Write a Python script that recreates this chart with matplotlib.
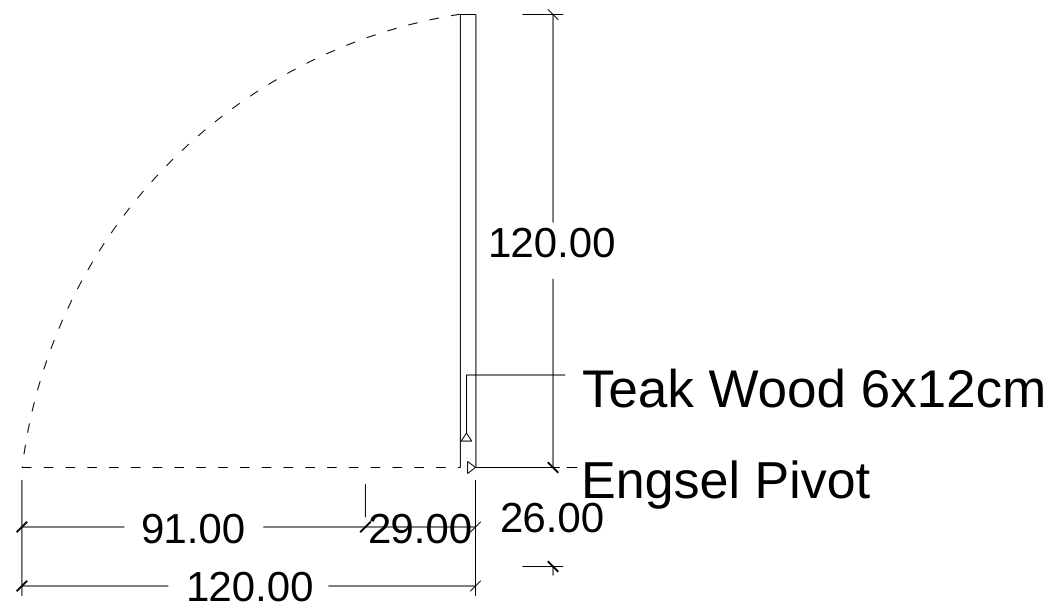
import matplotlib
matplotlib.use("Agg")
import matplotlib.pyplot as plt
from matplotlib.patches import Arc, Polygon

plt.rcParams["text.hinting"] = "no_hinting"
plt.rcParams["text.hinting_factor"] = 1

# Drawing units are centimetres; origin = swing end of the door, on the hinge line
W, H = 1055, 606
PX_PER_CM_X = 3.7833
PX_PER_CM_Y = 3.775
ORIGIN_PX = (21.9, 467.5)

door_x = [115.9, 120]
door_top = 120
arc_center = (137.05, -16.56)
arc_radii = (137.97, 138.28)
arc_angles = (98.8, 173.1)

# Solid dimension segments: (x0, y0, x1, y1)
dim_segments = [
    (0, -15.76, 27.1, -15.76), (63.8, -15.76, 120, -15.76),
    (0, -31.39, 38.7, -31.39), (81.0, -31.39, 120, -31.39),
    (0, -3.3, 0, -34), (119.9, -3.3, 119.9, -34),
    (90.8, -4.4, 90.8, -13.2),
    (140.39, 120, 140.39, 64.9), (140.39, 50, 140.39, 0),
    (132.3, 120, 143.1, 120),
    (120, 0, 142.2, 0), (144, 0, 146.8, 0),
    (132.3, -26.23, 143.1, -26.23), (140.39, -26.23, 140.39, -28.6),
]
# Dimension ticks: (x, y, direction, linewidth)
ticks = [
    (0, -15.76, 1, 1.4), (0, -31.39, 1, 1.4), (90.8, -15.76, 1, 1.4),
    (119.9, -15.76, 1, 0.7), (119.9, -31.39, 1, 0.7),
    (140.39, 120, -1, 0.7), (140.39, 0, -1, 1.4), (140.39, -26.23, -1, 1.4),
]
leader_x = [143.6, 117.52, 117.52]
leader_y = [24.5, 24.5, 9.1]
triangle_up = [(117.52, 9.1), (116.1, 7), (118.9, 7)]
triangle_right = [(119.9, 0), (117.8, 1.6), (117.8, -1.6)]

labels = [
    ("120.00", 123.2, 56.0, 30.1),
    ("Teak Wood 6x12cm", 148.1, 16.1, 37.9),
    ("Engsel Pivot", 147.8, -8.16, 37.6),
    ("91.00", 31.3, -20.0, 30.1),
    ("29.00", 91.4, -20.0, 30.1),
    ("26.00", 126.3, -17.0, 30.1),
    ("120.00", 43.2, -35.3, 30.1),
]

fig = plt.figure(figsize=(W / 100, H / 100), dpi=100)
ax = fig.add_axes([0, 0, 1, 1])
ax.set_xlim(-ORIGIN_PX[0] / PX_PER_CM_X, (W - ORIGIN_PX[0]) / PX_PER_CM_X)
ax.set_ylim((ORIGIN_PX[1] - H) / PX_PER_CM_Y, ORIGIN_PX[1] / PX_PER_CM_Y)
ax.axis("off")

LW = 0.72
DASH = (0, (9.6, 12.2))
line = dict(color="black", lw=LW, solid_capstyle="butt", snap=False)

# Door panel
ax.plot([door_x[0], door_x[0]], [0, door_top], **line)
ax.plot([door_x[1], door_x[1]], [0, door_top], **line)
ax.plot([door_x[0] - 0.1, door_x[1]], [door_top, door_top], **line)

# Swing arc and closed-position dashed line
ax.add_patch(Arc(arc_center, 2 * arc_radii[0], 2 * arc_radii[1],
                 theta1=arc_angles[0], theta2=arc_angles[1],
                 color="black", lw=LW, ls=DASH, snap=False))
ax.plot([0, door_x[0]], [0, 0], color="black", lw=LW, ls=DASH, dash_capstyle="butt", snap=False)

for x0, y0, x1, y1 in dim_segments:
    ax.plot([x0, x1], [y0, y1], **line)

for x, y, d, lw in ticks:
    ax.plot([x - 1.4, x + 1.4], [y - 1.4 * d, y + 1.4 * d], color="black", lw=lw,
            solid_capstyle="butt", snap=False)

ax.plot(leader_x, leader_y, **line)
for tri in (triangle_up, triangle_right):
    ax.add_patch(Polygon(tri, closed=True, fill=False, ec="black", lw=LW, snap=False))

for text, x, y, size in labels:
    ax.text(x, y, text, fontsize=size, family="Liberation Sans", color="black",
            ha="left", va="baseline")

fig.savefig("out.png", dpi=100, facecolor="white")
